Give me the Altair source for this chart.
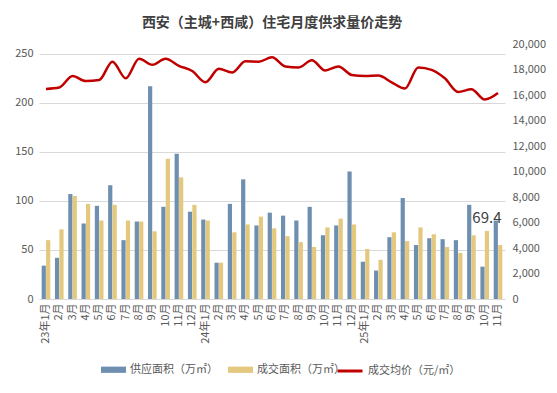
import altair as alt
import pandas as pd

months = ["23年1月", "23年2月", "23年3月", "23年4月", "23年5月", "23年6月",
          "23年7月", "23年8月", "23年9月", "23年10月", "23年11月", "23年12月",
          "24年1月", "24年2月", "24年3月", "24年4月", "24年5月", "24年6月",
          "24年7月", "24年8月", "24年9月", "24年10月", "24年11月", "24年12月",
          "25年1月", "25年2月", "25年3月", "25年4月", "25年5月", "25年6月",
          "25年7月", "25年8月", "25年9月", "25年10月", "25年11月"]

supply = [34, 42, 107, 77, 95, 116, 60, 79, 217, 94, 148, 89,
          81, 37, 97, 122, 75, 88, 85, 80, 94, 65, 75, 130,
          38, 29, 63, 103, 55, 62, 61, 60, 96, 33, 80]

deal = [60, 71, 105, 97, 80, 96, 80, 79, 69, 143, 124, 96,
        80, 37, 68, 76, 84, 72, 64, 58, 53, 73, 82, 76,
        51, 40, 68, 59, 73, 66, 53, 47, 65, 69.4, 55]

price = [16480, 16590, 17490, 17090, 17170, 18610, 17310, 18850, 18370, 18850, 18290, 17880,
         17000, 18050, 17760, 18640, 18610, 18960, 18240, 18160, 18720, 17920, 18240, 17570,
         17490, 17520, 16990, 16510, 18160, 17970, 17310, 16240, 16450, 15650, 16160]

S_SUPPLY = "供应面积（万㎡）"
S_DEAL = "成交面积（万㎡）"
S_PRICE = "成交均价（元/㎡）"

label_month = "25年10月"
label_value = 69.4

bar_df = pd.DataFrame(
    [{"month": m, "series": S_SUPPLY, "value": v} for m, v in zip(months, supply)]
    + [{"month": m, "series": S_DEAL, "value": v} for m, v in zip(months, deal)]
)
line_df = pd.DataFrame({"month": months, "series": S_PRICE, "price": price})
label_df = pd.DataFrame([{"month": label_month, "series": S_DEAL, "value": label_value}])

FONT = "Noto Sans CJK SC"
GREY = "#595959"

x_enc = alt.X(
    "month:N",
    sort=months,
    scale=alt.Scale(paddingInner=0.35, paddingOuter=0.2),
    axis=alt.Axis(
        title=None,
        labelAngle=270,
        labelExpr="substring(datum.value, 3) == '1月' ? datum.value : substring(datum.value, 3)",
        ticks=False,
        domain=True,
        domainColor="#d9d9d9",
        labelColor=GREY,
        labelFontSize=11,
        labelPadding=4,
        grid=False,
    ),
)

left_y = alt.Y(
    "value:Q",
    scale=alt.Scale(domain=[0, 250]),
    axis=alt.Axis(
        title=None,
        values=[0, 50, 100, 150, 200, 250],
        grid=True,
        gridColor="#d9d9d9",
        domain=False,
        ticks=False,
        labelColor=GREY,
        labelFontSize=11,
        labelPadding=6,
    ),
)

bars = alt.Chart(bar_df).mark_bar().encode(
    x=x_enc,
    xOffset=alt.XOffset("series:N", sort=[S_SUPPLY, S_DEAL],
                        scale=alt.Scale(paddingInner=0.05)),
    y=left_y,
    fill=alt.Fill(
        "series:N",
        sort=[S_SUPPLY, S_DEAL],
        scale=alt.Scale(domain=[S_SUPPLY, S_DEAL], range=["#6f8fb0", "#e3c87e"]),
        legend=alt.Legend(
            orient="none",
            legendX=62,
            legendY=313,
            direction="horizontal",
            title=None,
            symbolType="M-1,-0.25H1V0.25H-1Z",
            symbolSize=625,
            symbolStrokeWidth=0,
            labelFontSize=11,
            labelColor=GREY,
            columnPadding=10,
            labelOffset=4,
        ),
    ),
)

text = alt.Chart(label_df).mark_text(
    baseline="bottom", dy=-5, fontSize=15, color="#404040", font=FONT
).encode(
    x=alt.X("month:N", sort=months),
    xOffset=alt.XOffset("series:N", sort=[S_SUPPLY, S_DEAL]),
    y=alt.Y("value:Q"),
    text=alt.Text("value:Q", format=".1f"),
)

left = alt.layer(bars, text)

line = alt.Chart(line_df).mark_line(interpolate="monotone", strokeWidth=2.5).encode(
    x=alt.X("month:N", sort=months),
    y=alt.Y(
        "price:Q",
        scale=alt.Scale(domain=[0, 20000]),
        axis=alt.Axis(
            title=None,
            orient="right",
            values=list(range(0, 20001, 2000)),
            grid=False,
            domain=False,
            ticks=False,
            labelColor=GREY,
            labelFontSize=11,
            labelPadding=7,
        ),
    ),
    stroke=alt.Stroke(
        "series:N",
        scale=alt.Scale(domain=[S_PRICE], range=["#c00000"]),
        legend=alt.Legend(
            orient="none",
            legendX=297,
            legendY=313,
            direction="horizontal",
            title=None,
            symbolType="stroke",
            symbolSize=625,
            symbolStrokeWidth=3,
            labelFontSize=11,
            labelColor=GREY,
            labelOffset=4,
        ),
    ),
)

chart = (
    alt.layer(left, line)
    .resolve_scale(y="independent")
    .properties(
        width=541,
        height=377,
        autosize=alt.AutoSizeParams(type="fit", contains="padding"),
        padding={"left": 6, "top": 8, "right": 3, "bottom": 41},
        title=alt.TitleParams(
            "西安（主城+西咸）住宅月度供求量价走势",
            fontSize=14,
            fontWeight="bold",
            color="#404040",
            offset=8,
            anchor="middle",
            font=FONT,
        ),
    )
    .configure(font=FONT)
    .configure_view(stroke=None)
)

chart.save("out.html", embed_options={"renderer": "svg", "actions": False})
